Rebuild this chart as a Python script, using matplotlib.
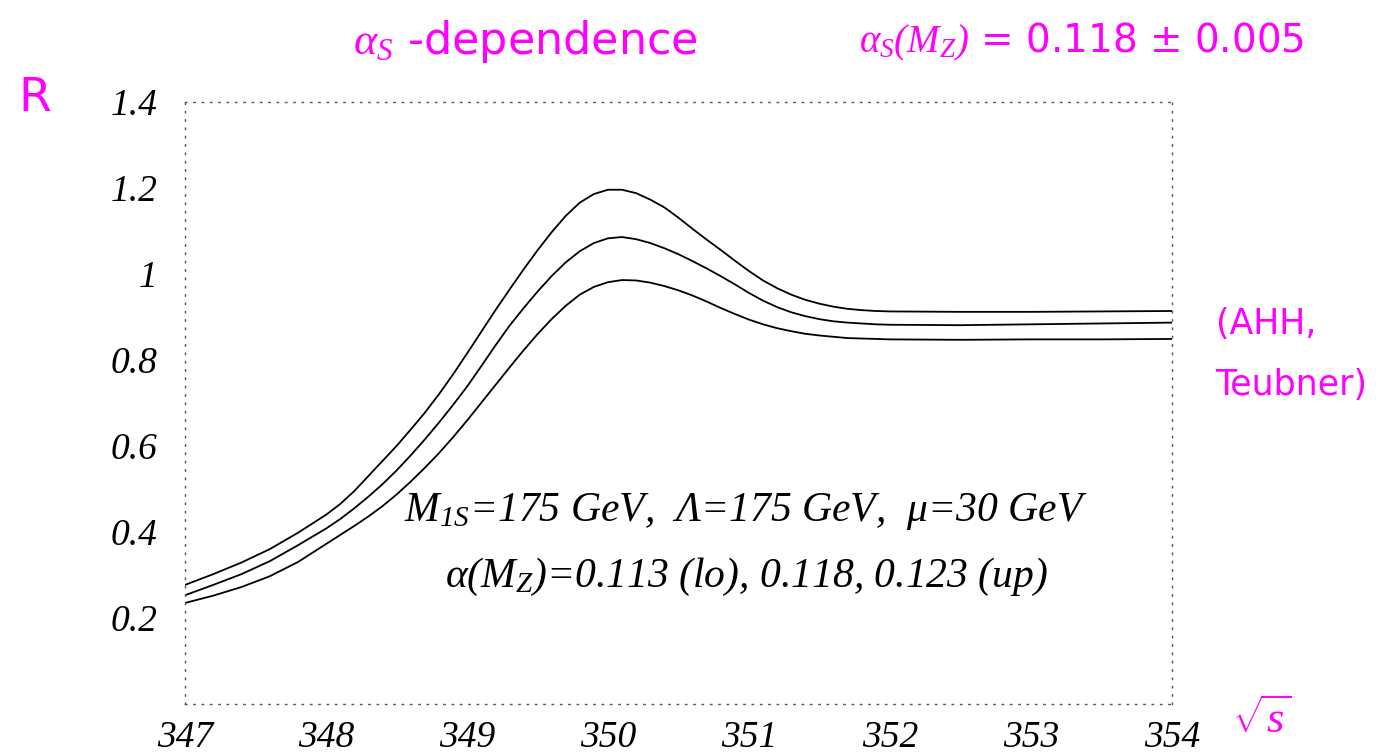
import numpy as np
import matplotlib
matplotlib.use("Agg")
import matplotlib.pyplot as plt

# Centre-of-mass energy grid (GeV): coarse on the tails, fine across the peak
energy = ([347.0, 347.2, 347.4, 347.6, 347.8]
          + [round(348.0 + 0.1 * i, 1) for i in range(41)]
          + [352.5, 353.0, 353.5, 354.0])

# R ratio for alpha_s(Mz) = 0.123 (up)
r_up = [0.277, 0.302, 0.329, 0.360, 0.398,
        0.440, 0.465, 0.495, 0.530, 0.565, 0.600, 0.638, 0.677, 0.720, 0.766,
        0.815, 0.865, 0.915, 0.963, 1.010, 1.055, 1.097, 1.135, 1.166, 1.186,
        1.196, 1.196, 1.188, 1.173, 1.155, 1.131, 1.105, 1.080, 1.056, 1.031,
        1.007, 0.985, 0.967, 0.952, 0.940, 0.931, 0.924, 0.919, 0.916, 0.914,
        0.913,
        0.912, 0.912, 0.913, 0.914]

# R ratio for alpha_s(Mz) = 0.118
r_mid = [0.253, 0.277, 0.302, 0.332, 0.369,
         0.408, 0.430, 0.455, 0.482, 0.511, 0.543, 0.578, 0.615, 0.654, 0.695,
         0.738, 0.785, 0.833, 0.879, 0.920, 0.959, 0.995, 1.027, 1.053, 1.072,
         1.083, 1.086, 1.081, 1.072, 1.060, 1.046, 1.030, 1.013, 0.995, 0.976,
         0.956, 0.938, 0.923, 0.911, 0.902, 0.895, 0.890, 0.887, 0.885, 0.883,
         0.882,
         0.881, 0.883, 0.885, 0.887]

# R ratio for alpha_s(Mz) = 0.113 (lo)
r_lo = [0.235, 0.252, 0.272, 0.297, 0.330,
        0.372, 0.393, 0.414, 0.436, 0.460, 0.487, 0.517, 0.549, 0.583, 0.620,
        0.659, 0.700, 0.741, 0.782, 0.822, 0.860, 0.895, 0.926, 0.952, 0.970,
        0.981, 0.986, 0.985, 0.980, 0.972, 0.962, 0.950, 0.936, 0.921, 0.907,
        0.894, 0.883, 0.874, 0.867, 0.861, 0.857, 0.854, 0.851, 0.850, 0.849,
        0.848,
        0.847, 0.848, 0.848, 0.849]

x_ticks = [347, 348, 349, 350, 351, 352, 353, 354]
y_ticks = [0.2, 0.4, 0.6, 0.8, 1.0, 1.2, 1.4]
y_tick_labels = ["0.2", "0.4", "0.6", "0.8", "1", "1.2", "1.4"]

params_line1 = r"$M_{1S}$=175 GeV,  $\Lambda$=175 GeV,  $\mu$=30 GeV"
params_line2 = r"$\alpha(M_Z)$=0.113 (lo), 0.118, 0.123 (up)"

plt.rcParams["mathtext.fontset"] = "custom"
plt.rcParams["mathtext.rm"] = "Liberation Serif:italic"
plt.rcParams["mathtext.it"] = "Liberation Serif:italic"

fig = plt.figure(figsize=(13.86, 7.54), dpi=100)
ax = fig.add_axes([0.1335, 0.0663, 0.712, 0.7984])

for series in (r_up, r_mid, r_lo):
    ax.plot(energy, series, color="black", lw=1.3)

ax.set_xlim(347, 354)
ax.set_ylim(0, 1.4)
ax.set_xticks(x_ticks)
ax.set_xticklabels([str(t) for t in x_ticks])
ax.set_yticks(y_ticks)
ax.set_yticklabels(y_tick_labels)
ax.tick_params(axis="y", length=0, pad=20)
ax.tick_params(axis="x", length=0, pad=12)
for lab in ax.get_xticklabels() + ax.get_yticklabels():
    lab.set_family("Liberation Serif")
    lab.set_style("italic")
    lab.set_fontsize(27)

for side in ("left", "right", "top", "bottom"):
    ax.spines[side].set_linestyle((0, (1, 5)))
    ax.spines[side].set_linewidth(1.0)
    ax.spines[side].set_color("#555555")

text_kw = dict(family="Liberation Serif", style="italic", fontsize=30,
               ha="center", va="center", transform=ax.transData)
ax.text(350.98, 0.447, params_line1, **text_kw)
ax.text(350.98, 0.295, params_line2, **text_kw)

# Handwritten notes in magenta
pink = "#ff00ff"
fig.text(0.255, 0.945, r"$\alpha_S$ -dependence", color=pink, fontsize=32,
         family="DejaVu Sans", va="center")
fig.text(0.62, 0.945, r"$\alpha_S(M_Z)$ = 0.118 ± 0.005", color=pink, fontsize=28,
         family="DejaVu Sans", va="center")
fig.text(0.025, 0.87, "R", color=pink, fontsize=34, family="DejaVu Sans",
         ha="center", va="center")
fig.text(0.877, 0.53, "(AHH,\nTeubner)", color=pink, fontsize=25,
         family="DejaVu Sans", va="center", linespacing=2.0)
fig.text(0.91, 0.045, r"$\sqrt{s}$", color=pink, fontsize=32,
         ha="center", va="center")

fig.savefig("out.png", dpi=100, facecolor="white")
